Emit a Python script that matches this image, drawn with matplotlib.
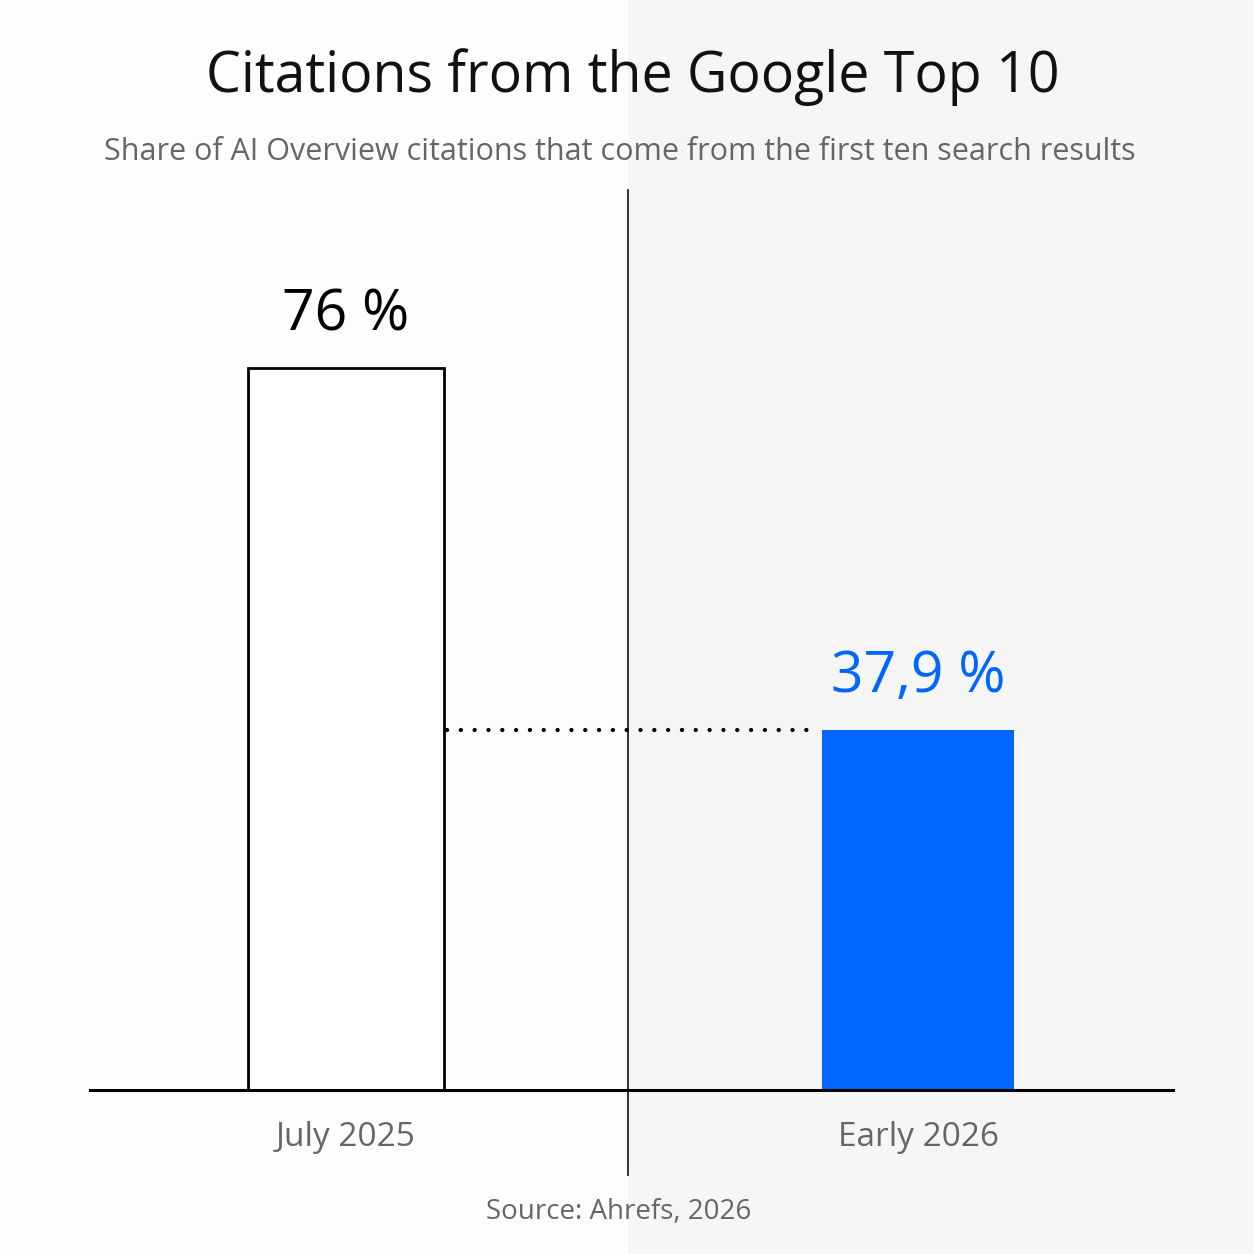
import matplotlib
matplotlib.use("Agg")
import matplotlib.pyplot as plt
from matplotlib.patches import Rectangle
from matplotlib.lines import Line2D

# data
periods = ["July 2025", "Early 2026"]
shares = [76.0, 37.9]
share_labels = ["76 %", "37,9 %"]

title = "Citations from the Google Top 10"
subtitle = "Share of AI Overview citations that come from the first ten search results"
source = "Source: Ahrefs, 2026"

BLUE = "#0066FF"
GREY_TXT = "#666666"

plt.rcParams["font.family"] = ["Open Sans", "DejaVu Sans"]

W = H = 1254
fig = plt.figure(figsize=(12.54, 12.54), dpi=100)
fig.patch.set_facecolor("#FDFDFD")

def fx(px):
    return px / W

def fy(py):
    return 1 - py / H

# right half light grey background (behind everything)
bg = Rectangle((fx(628), 0), 1 - fx(628), 1, transform=fig.transFigure,
               facecolor="#F6F6F6", edgecolor="none", zorder=-10)
fig.patches.append(bg)

# plot area: baseline at y=1090px, from x=90 to 1173
ax = fig.add_axes([fx(90), fy(1090), fx(1173) - fx(90), (1090 - 190) / H])
ax.set_zorder(2)
ax.patch.set_alpha(0)
x = [0, 1]
ax.set_xlim(-0.4476, 1.4458)
ax.set_ylim(0, 94.7)

ax.bar(x[0], shares[0], width=0.343, facecolor="white", edgecolor="black", linewidth=2.0, zorder=3)
ax.bar(x[1], shares[1], width=0.336, facecolor=BLUE, edgecolor="none", zorder=3)

# dotted comparison line at the second value
ax.plot([x[0] + 0.343 / 2 + 0.005, x[1] - 0.336 / 2 - 0.012], [shares[1], shares[1]],
        linestyle=(0, (0.01, 3.2)), dash_capstyle="round", color="black",
        linewidth=3.1, zorder=2)

label_colors = ["black", BLUE]
for xi, v, lab, c in zip(x, shares, share_labels, label_colors):
    ax.annotate(lab, (xi, v), xytext=(0, 17), textcoords="offset points",
                ha="center", va="bottom", fontsize=41, color=c, fontweight="medium")

for s in ["top", "right", "left"]:
    ax.spines[s].set_visible(False)
ax.spines["bottom"].set_linewidth(2.2)
ax.spines["bottom"].set_zorder(4)
ax.set_yticks([])
ax.set_xticks(x)
ax.set_xticklabels(periods, fontsize=24, color=GREY_TXT)
ax.tick_params(axis="x", length=0, pad=22)

# vertical divider
fig.lines.append(Line2D([fx(628), fx(628)], [fy(190), fy(1175)], transform=fig.transFigure,
                        color="#222222", linewidth=1.3, zorder=1))

fig.text(0.505, fy(77), title, ha="center", va="center", fontsize=40, color="#111111",
         fontweight="medium")
fig.text(0.494, fy(152), subtitle, ha="center", va="center", fontsize=22, color=GREY_TXT)
fig.text(fx(619), fy(1212), source, ha="center", va="center", fontsize=20, color=GREY_TXT)

fig.savefig("out.png", dpi=100, facecolor=fig.get_facecolor())
